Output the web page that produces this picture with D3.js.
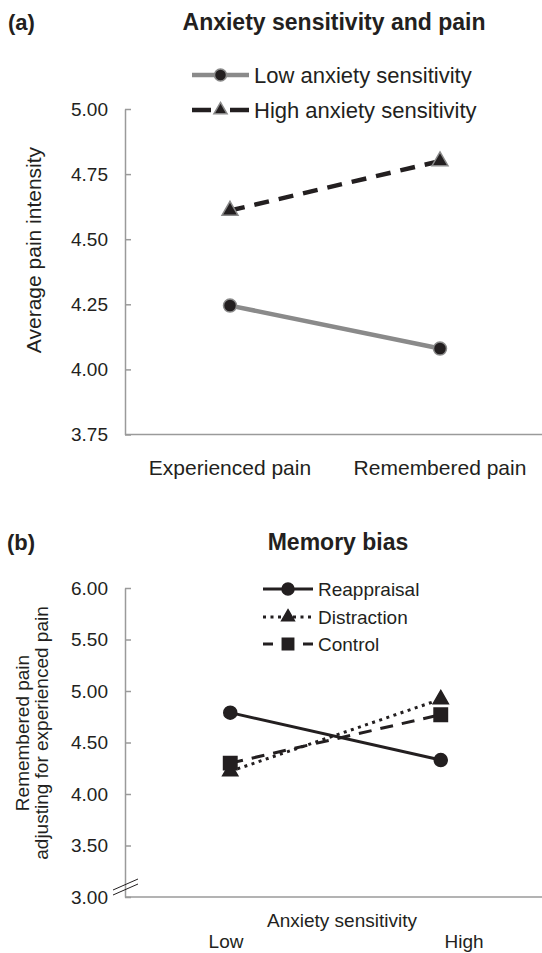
<!DOCTYPE html>
<html>
<head>
<meta charset="utf-8">
<script src="https://cdn.jsdelivr.net/npm/d3@7"></script>
<style>
  body { margin: 0; background: #fff; }
  svg { font-family: "Liberation Sans", Arial, sans-serif; fill: #231f20; }
</style>
</head>
<body>
<svg id="chart"></svg>
<script>
// Panel (a) data
const PAIN_TYPES = ["Experienced pain", "Remembered pain"];
const LOW_AS = [4.245, 4.08];
const HIGH_AS = [4.61, 4.80];
const TICKS_A = [3.75, 4.00, 4.25, 4.50, 4.75, 5.00];

// Panel (b) data
const AS_LEVELS = ["Low", "High"];
const REAPPRAISAL = [4.79, 4.33];
const DISTRACTION = [4.22, 4.92];
const CONTROL = [4.30, 4.77];
const TICKS_B = [3.00, 3.50, 4.00, 4.50, 5.00, 5.50, 6.00];

const WIDTH = 542;
const HEIGHT = 953;
const INK = "#231f20";
const AXIS_GREY = "#9a9a9a";
const LINE_GREY = "#8a8a8a";

const svg = d3.select("#chart")
  .attr("width", WIDTH)
  .attr("height", HEIGHT);

// Marker helper: size is radius for circles, area for other symbols
function drawMarker(g, shape, x, y, fill, stroke, size) {
  if (shape === "circle") {
    g.append("circle").attr("cx", x).attr("cy", y).attr("r", size)
      .attr("fill", fill).attr("stroke", stroke).attr("stroke-width", 1.5);
  } else {
    const sym = shape === "triangle" ? d3.symbolTriangle : d3.symbolSquare;
    g.append("path")
      .attr("d", d3.symbol().type(sym).size(size)())
      .attr("transform", `translate(${x},${y})`)
      .attr("fill", fill).attr("stroke", stroke).attr("stroke-width", 1.5);
  }
}

// ---------- Panel (a) ----------
const xA = d3.scaleBand().domain(PAIN_TYPES).range([125, 545]);
const yA = d3.scaleLinear().domain([3.75, 5]).range([434.5, 109]);
const cxA = d => xA(d) + xA.bandwidth() / 2;

svg.append("text").attr("x", 8).attr("y", 30)
  .attr("font-size", 22).attr("font-weight", "bold").text("(a)");
svg.append("text").attr("x", 334).attr("y", 30).attr("text-anchor", "middle")
  .attr("font-size", 23).attr("font-weight", "bold").text("Anxiety sensitivity and pain");

const axA = svg.append("g").attr("transform", "translate(125,0)")
  .call(d3.axisLeft(yA).tickValues(TICKS_A).tickFormat(d3.format(".2f"))
    .tickSizeInner(-6).tickSizeOuter(0).tickPadding(17));
axA.selectAll("path, line").attr("stroke", AXIS_GREY).attr("stroke-width", 1.5);
axA.selectAll("text").attr("font-size", 19).attr("fill", INK)
  .attr("font-family", "Liberation Sans, Arial, sans-serif");

svg.append("line").attr("x1", 125).attr("x2", 542)
  .attr("y1", yA(3.75)).attr("y2", yA(3.75))
  .attr("stroke", AXIS_GREY).attr("stroke-width", 1.5);

svg.selectAll(".xlabA").data(PAIN_TYPES).enter().append("text")
  .attr("class", "xlabA")
  .attr("x", d => cxA(d)).attr("y", 475)
  .attr("text-anchor", "middle").attr("font-size", 21).text(d => d);

svg.append("text")
  .attr("transform", "translate(41,250) rotate(-90)")
  .attr("text-anchor", "middle").attr("font-size", 21)
  .text("Average pain intensity");

const lineA = d3.line()
  .x((d, i) => cxA(PAIN_TYPES[i]))
  .y(d => yA(d));

svg.append("path").datum(LOW_AS).attr("d", lineA)
  .attr("fill", "none").attr("stroke", LINE_GREY).attr("stroke-width", 4.5);
svg.append("path").datum(HIGH_AS).attr("d", lineA)
  .attr("fill", "none").attr("stroke", INK).attr("stroke-width", 4.5)
  .attr("stroke-dasharray", "15,10");

const mA = svg.append("g");
LOW_AS.forEach((v, i) => drawMarker(mA, "circle", cxA(PAIN_TYPES[i]), yA(v), INK, LINE_GREY, 6.5));
HIGH_AS.forEach((v, i) => drawMarker(mA, "triangle", cxA(PAIN_TYPES[i]), yA(v), INK, LINE_GREY, 110));

// Legend (a)
const legA = svg.append("g");
legA.append("line").attr("x1", 192).attr("x2", 249).attr("y1", 75).attr("y2", 75)
  .attr("stroke", LINE_GREY).attr("stroke-width", 4.5);
drawMarker(legA, "circle", 220.5, 75, INK, LINE_GREY, 6);
legA.append("text").attr("x", 254).attr("y", 83).attr("font-size", 22).text("Low anxiety sensitivity");
legA.append("line").attr("x1", 192).attr("x2", 249).attr("y1", 110).attr("y2", 110)
  .attr("stroke", INK).attr("stroke-width", 4.5).attr("stroke-dasharray", "19,19");
drawMarker(legA, "triangle", 220.5, 110, INK, LINE_GREY, 75);
legA.append("text").attr("x", 254).attr("y", 118).attr("font-size", 22).text("High anxiety sensitivity");

// ---------- Panel (b) ----------
const xB = d3.scaleBand().domain(AS_LEVELS).range([125, 546]);
const yB = d3.scaleLinear().domain([3, 6]).range([897, 588]);
const cxB = d => xB(d) + xB.bandwidth() / 2;

svg.append("text").attr("x", 7).attr("y", 550)
  .attr("font-size", 22).attr("font-weight", "bold").text("(b)");
svg.append("text").attr("x", 338).attr("y", 550).attr("text-anchor", "middle")
  .attr("font-size", 23).attr("font-weight", "bold").text("Memory bias");

const axB = svg.append("g").attr("transform", "translate(125,0)")
  .call(d3.axisLeft(yB).tickValues(TICKS_B).tickFormat(d3.format(".2f"))
    .tickSizeInner(-6).tickSizeOuter(0).tickPadding(17));
axB.selectAll("path, line").attr("stroke", AXIS_GREY).attr("stroke-width", 1.5);
axB.selectAll("text").attr("font-size", 19).attr("fill", INK)
  .attr("font-family", "Liberation Sans, Arial, sans-serif");

svg.append("line").attr("x1", 125).attr("x2", 542)
  .attr("y1", yB(3)).attr("y2", yB(3))
  .attr("stroke", AXIS_GREY).attr("stroke-width", 1.5);

// axis break marks
svg.append("g").selectAll("line").data([0, 5]).enter().append("line")
  .attr("x1", 113).attr("x2", 138)
  .attr("y1", d => 890 + d).attr("y2", d => 879 + d)
  .attr("stroke", INK).attr("stroke-width", 1);

svg.append("text").attr("x", 342).attr("y", 927).attr("text-anchor", "middle")
  .attr("font-size", 19).text("Anxiety sensitivity");

const xLevelLabel = d3.scalePoint().domain(AS_LEVELS).range([226, 464]);
svg.selectAll(".xlabB").data(AS_LEVELS).enter().append("text")
  .attr("class", "xlabB")
  .attr("x", d => xLevelLabel(d)).attr("y", 948)
  .attr("text-anchor", "middle").attr("font-size", 19).text(d => d);

const ylabB = svg.append("text").attr("text-anchor", "middle").attr("font-size", 19)
  .attr("transform", "translate(0,733) rotate(-90)");
ylabB.append("tspan").attr("x", 0).attr("y", 28.5).text("Remembered pain");
ylabB.append("tspan").attr("x", 0).attr("y", 48).text("adjusting for experienced pain");

const lineB = d3.line()
  .x((d, i) => cxB(AS_LEVELS[i]))
  .y(d => yB(d));

const seriesB = [
  { name: "Reappraisal", values: REAPPRAISAL, dash: null, legDash: null, shape: "circle", size: 6.5, legSize: 6 },
  { name: "Distraction", values: DISTRACTION, dash: "3,4.5", legDash: "3,4.5", shape: "triangle", size: 100, legSize: 70 },
  { name: "Control", values: CONTROL, dash: "13,9", legDash: "10,30", shape: "square", size: 180, legSize: 130 }
];

seriesB.forEach(s => {
  svg.append("path").datum(s.values).attr("d", lineB)
    .attr("fill", "none").attr("stroke", INK).attr("stroke-width", 3)
    .attr("stroke-dasharray", s.dash);
});
const mB = svg.append("g");
seriesB.forEach(s => {
  s.values.forEach((v, i) => drawMarker(mB, s.shape, cxB(AS_LEVELS[i]), yB(v), INK, INK, s.size));
});

// Legend (b)
const legY = [589, 617, 644];
const legB = svg.append("g");
seriesB.forEach((s, i) => {
  legB.append("line").attr("x1", 263).attr("x2", 313).attr("y1", legY[i]).attr("y2", legY[i])
    .attr("stroke", INK).attr("stroke-width", 3).attr("stroke-dasharray", s.legDash);
  drawMarker(legB, s.shape, 288, legY[i], INK, INK, s.legSize);
  legB.append("text").attr("x", 318).attr("y", legY[i] + 7).attr("font-size", 19).text(s.name);
});
</script>
</body>
</html>
